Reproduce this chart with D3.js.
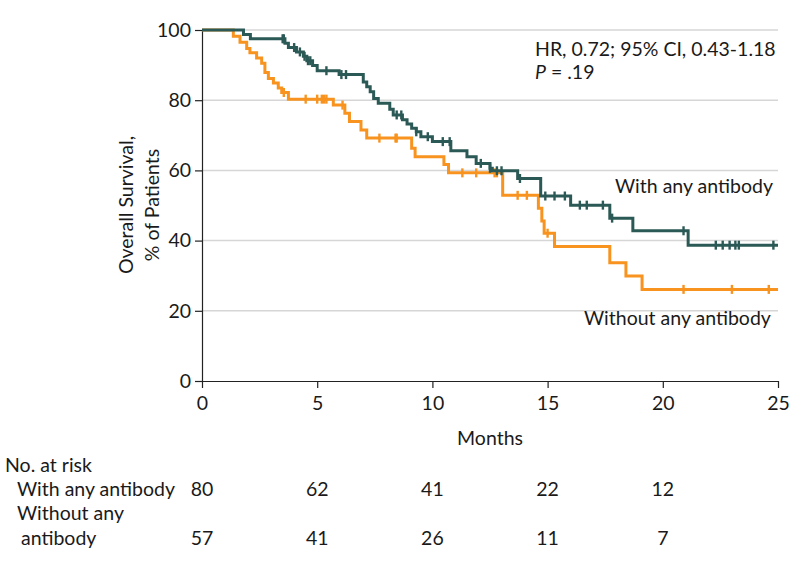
<!DOCTYPE html>
<html>
<head>
<meta charset="utf-8">
<script src="https://cdn.jsdelivr.net/npm/d3@7"></script>
<style>
  html, body { margin: 0; padding: 0; background: #fff; }
  svg text { font-family: Lato, "Noto Sans", sans-serif; fill: #1a1a1a; }
</style>
</head>
<body>
<svg id="chart" width="798" height="567"></svg>
<script>
// ---- data ----
const monthTicks = [0, 5, 10, 15, 20, 25];
const survTicks = [0, 20, 40, 60, 80, 100];
const groupNames = ["With any antibody", "Without any antibody"];

// With any antibody: step times (months) and survival (%) after each step
const withTimes = [0, 1.8, 2.1, 3.6, 3.75, 4.1, 4.4, 4.55, 4.8, 5.0, 5.95, 7.0, 7.15, 7.3, 7.45, 7.65, 8.15, 8.3, 8.7, 8.9, 9.1, 9.3, 9.5, 10.0, 10.8, 11.5, 11.9, 12.5, 12.6, 13.7, 14.7, 16.0, 17.7, 18.7, 21.1];
const withSurv  = [100, 98.75, 97.5, 96.25, 95, 93.75, 92.5, 91.25, 89.9, 88.4, 87.3, 85.2, 83.8, 82.4, 80.5, 79.1, 77.4, 75.8, 74.4, 73.2, 72.0, 71.0, 69.6, 68.2, 65.6, 63.9, 62.0, 60.6, 59.9, 57.7, 52.7, 50.1, 46.4, 42.8, 38.7];
const withCensor = [3.5, 3.55, 4.0, 4.25, 4.45, 4.6, 4.7, 5.4, 6.05, 6.25, 8.45, 8.65, 9.3, 9.8, 10.45, 10.75, 12.1, 12.5, 12.8, 13.0, 13.8, 14.9, 15.3, 15.75, 16.4, 16.7, 17.4, 17.8, 20.9, 22.3, 22.6, 22.9, 23.15, 23.3, 24.8];

// Without any antibody
const withoutTimes = [0, 1.36, 1.65, 1.94, 2.08, 2.37, 2.59, 2.73, 2.88, 3.1, 3.31, 3.46, 3.75, 5.7, 6.2, 6.4, 6.9, 7.15, 9.1, 9.25, 10.5, 10.7, 13.05, 14.6, 14.75, 14.85, 15.3, 17.7, 18.4, 19.1];
const withoutSurv  = [100, 98.25, 96.5, 94.75, 93.5, 92.0, 90.5, 87.9, 86.2, 84.9, 83.5, 82.2, 80.3, 78.6, 76.3, 73.9, 71.5, 69.2, 66.3, 63.9, 61.7, 59.3, 52.9, 49.2, 45.6, 42.1, 38.3, 33.7, 29.9, 26.1];
const withoutCensor = [3.55, 4.5, 5.0, 5.2, 5.3, 5.4, 6.1, 7.7, 8.4, 8.45, 11.3, 11.9, 12.7, 12.8, 13.7, 14.1, 15.0, 20.9, 23.0, 24.6];

const riskTimes = [0, 5, 10, 15, 20];
const atRiskWith = [80, 62, 41, 22, 12];
const atRiskWithout = [57, 41, 26, 11, 7];

const hrText = "HR, 0.72; 95% CI, 0.43-1.18";
const pText = ".19";

// ---- drawing ----
const colors = ["#2b5956", "#f7931e"];
const svg = d3.select("#chart");
const x = d3.scaleLinear().domain([0, 25]).range([202, 778]);
const y = d3.scaleLinear().domain([0, 100]).range([381, 30]);
const FS = 19.5;

// gridlines
svg.append("g").selectAll("line").data(survTicks.filter(d => d > 0)).join("line")
  .attr("x1", x(0)).attr("x2", x(25))
  .attr("y1", d => y(d)).attr("y2", d => y(d))
  .attr("stroke", "#d6d6d6").attr("stroke-width", 1.5);

// axes
const yAxis = svg.append("g").attr("transform", `translate(${x(0)},0)`)
  .call(d3.axisLeft(y).tickValues(survTicks).tickSize(7).tickSizeOuter(0).tickPadding(4));
const xAxis = svg.append("g").attr("transform", `translate(0,${y(0)})`)
  .call(d3.axisBottom(x).tickValues(monthTicks).tickSize(7).tickSizeOuter(0).tickPadding(8));
[yAxis, xAxis].forEach(g => {
  g.selectAll("path, line").attr("stroke", "#222").attr("stroke-width", 1.2);
  g.selectAll("text").attr("font-size", FS).attr("font-family", "Lato, sans-serif").attr("fill", "#1a1a1a");
});

// curves
const series = [
  { times: withTimes, surv: withSurv, censor: withCensor },
  { times: withoutTimes, surv: withoutSurv, censor: withoutCensor }
];
const line = d3.line().x(d => x(d[0])).y(d => y(d[1])).curve(d3.curveStepAfter);
function survAt(s, t) {
  let v = s.surv[0];
  for (let i = 0; i < s.times.length; i++) if (s.times[i] <= t) v = s.surv[i];
  return v;
}
[1, 0].forEach(i => {
  const s = series[i];
  const pts = s.times.map((t, j) => [t, s.surv[j]]);
  pts.push([25, s.surv[s.surv.length - 1]]);
  svg.append("path").datum(pts).attr("d", line)
    .attr("fill", "none").attr("stroke", colors[i]).attr("stroke-width", 3);
  svg.append("g").selectAll("line").data(s.censor).join("line")
    .attr("x1", d => x(d)).attr("x2", d => x(d))
    .attr("y1", d => y(survAt(s, d)) - 4.5).attr("y2", d => y(survAt(s, d)) + 4.5)
    .attr("stroke", colors[i]).attr("stroke-width", 2.4);
});

// labels
svg.append("text").attr("x", 615).attr("y", 193).attr("font-size", FS).text(groupNames[0]);
svg.append("text").attr("x", 584).attr("y", 325).attr("font-size", FS).text(groupNames[1]);

svg.append("text").attr("x", 535).attr("y", 56).attr("font-size", FS).text(hrText);
const pt = svg.append("text").attr("x", 535).attr("y", 79).attr("font-size", FS);
pt.append("tspan").attr("font-style", "italic").text("P");
pt.append("tspan").text(" = " + pText);

// axis titles
svg.append("text").attr("x", x(12.5)).attr("y", 445).attr("text-anchor", "middle")
  .attr("font-size", FS).text("Months");
const yt = svg.append("text").attr("transform", "translate(0,205) rotate(-90)")
  .attr("text-anchor", "middle").attr("font-size", FS);
yt.append("tspan").attr("x", 0).attr("y", 133).text("Overall Survival,");
yt.append("tspan").attr("x", 0).attr("y", 159).text("% of Patients");

// risk table
svg.append("text").attr("x", 5).attr("y", 472).attr("font-size", FS).text("No. at risk");
svg.append("text").attr("x", 17).attr("y", 496).attr("font-size", FS).text(groupNames[0]);
svg.append("text").attr("x", 17).attr("y", 520).attr("font-size", FS).text("Without any");
svg.append("text").attr("x", 21).attr("y", 545).attr("font-size", FS).text("antibody");
svg.append("g").selectAll("text").data(atRiskWith).join("text")
  .attr("x", (d, i) => x(riskTimes[i])).attr("y", 496).attr("text-anchor", "middle")
  .attr("font-size", FS).text(d => d);
svg.append("g").selectAll("text").data(atRiskWithout).join("text")
  .attr("x", (d, i) => x(riskTimes[i])).attr("y", 545).attr("text-anchor", "middle")
  .attr("font-size", FS).text(d => d);
</script>
</body>
</html>
